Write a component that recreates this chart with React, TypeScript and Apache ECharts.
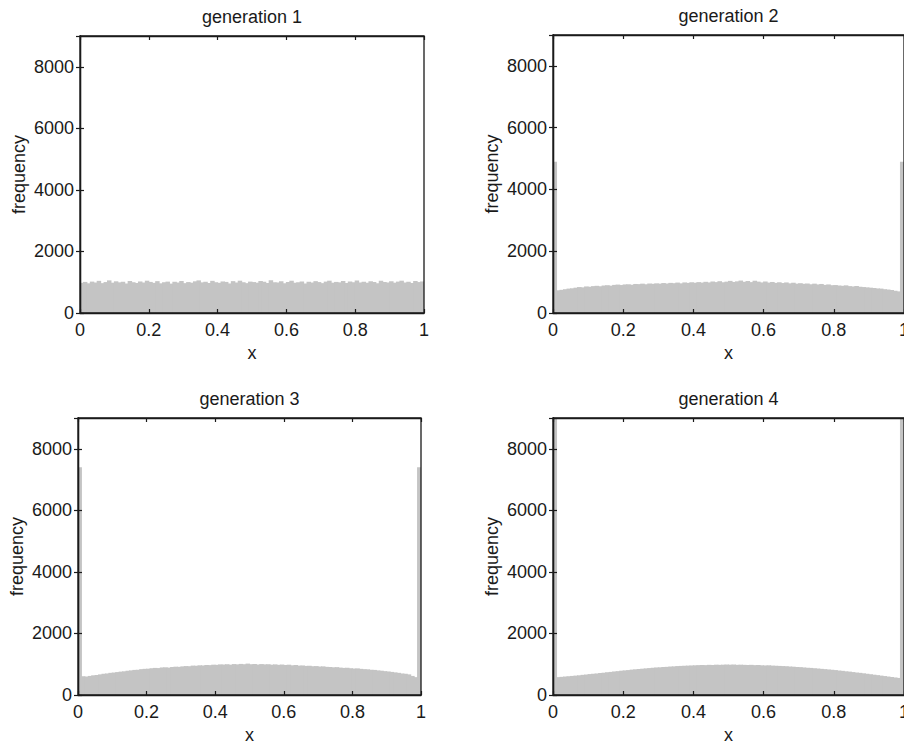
import React, { useEffect, useRef } from "react";
import * as echarts from "echarts";

// ---- data ----
const titles = ["generation 1", "generation 2", "generation 3", "generation 4"];
const xTickLabels = ["0", "0.2", "0.4", "0.6", "0.8", "1"];
const yTickLabels = ["0", "2000", "4000", "6000", "8000"];
const xName = "x";
const yName = "frequency";

// 100 histogram bins on [0, 1]
const binCount = 100;
const binCenters = Array.from({ length: binCount }, (_, i) => ((i + 0.5) / binCount).toFixed(3));

const gen1 = [
  980, 1010, 965, 1020, 990, 1045, 970, 1005, 1060, 985,
  1030, 995, 1015, 960, 1040, 1000, 975, 1025, 990, 1050,
  1010, 980, 1035, 965, 1000, 1020, 955, 1015, 990, 1040,
  970, 1005, 985, 1030, 1060, 995, 1015, 975, 1045, 1000,
  980, 1025, 1010, 960, 1035, 990, 1050, 1000, 970, 1020,
  1005, 985, 1040, 1015, 975, 1065, 1000, 990, 1030, 965,
  1010, 1045, 980, 1000, 1025, 955, 1015, 990, 1035, 1005,
  970, 1020, 1050, 985, 1010, 995, 1040, 975, 1025, 1000,
  1060, 990, 1015, 980, 1035, 1005, 970, 1045, 1010, 995,
  1030, 985, 1020, 1050, 990, 1015, 975, 1040, 1005, 1025,
];

const gen2 = [
  4900, 735, 750, 770, 790, 800, 820, 840, 830, 860,
  850, 870, 880, 865, 890, 900, 885, 910, 920, 905,
  925, 930, 915, 940, 935, 950, 930, 955, 945, 960,
  950, 970, 955, 975, 965, 985, 960, 990, 975, 995,
  980, 1000, 985, 1010, 990, 1020, 1000, 1030, 995, 1015,
  1040, 1005, 1025, 1050, 1010, 1035, 1000, 1045, 1015, 990,
  1020, 985, 1005, 975, 995, 970, 990, 960, 980, 950,
  965, 945, 955, 930, 950, 925, 940, 910, 925, 900,
  905, 890, 880, 895, 870, 860, 875, 850, 840, 830,
  820, 810, 795, 790, 770, 760, 745, 720, 700, 4900,
];

const gen3 = [
  7400, 610, 600, 620, 640, 650, 670, 690, 700, 720,
  730, 745, 760, 770, 790, 800, 815, 820, 840, 850,
  855, 870, 880, 875, 895, 900, 890, 910, 920, 915,
  930, 940, 935, 955, 950, 965, 960, 975, 970, 985,
  980, 995, 990, 1000, 985, 1005, 995, 1010, 1000, 1020,
  1000, 1010, 990, 1005, 995, 1000, 985, 995, 980, 990,
  975, 985, 965, 975, 955, 960, 945, 950, 935, 940,
  925, 930, 915, 910, 900, 905, 890, 880, 885, 870,
  860, 865, 850, 840, 835, 820, 815, 800, 790, 775,
  765, 750, 735, 720, 700, 690, 670, 620, 580, 7400,
];

const gen4 = [
  9600, 580, 590, 600, 610, 620, 630, 640, 655, 665,
  680, 690, 700, 715, 725, 740, 750, 765, 775, 790,
  800, 810, 825, 835, 845, 855, 865, 875, 885, 895,
  900, 910, 915, 925, 930, 940, 945, 950, 955, 960,
  965, 970, 975, 970, 980, 975, 985, 980, 985, 990,
  985, 990, 980, 985, 980, 975, 980, 970, 975, 965,
  960, 965, 955, 950, 945, 940, 935, 925, 920, 910,
  905, 895, 885, 880, 870, 860, 850, 840, 830, 820,
  810, 795, 785, 770, 760, 745, 730, 720, 705, 690,
  675, 660, 645, 630, 615, 600, 585, 570, 555, 9600,
];

const generations = [gen1, gen2, gen3, gen4];

// ---- layout ----
const panels = [
  { left: 80, top: 36, width: 344, height: 277 },
  { left: 553, top: 35, width: 351, height: 278 },
  { left: 78, top: 418, width: 343, height: 277 },
  { left: 553, top: 418, width: 351, height: 277 },
];

const FONT = "'Liberation Sans', Arial, Helvetica, sans-serif";
const INK = "#1a1a1a";
const BAR = "#c4c4c4";

function buildOption() {
  const title: any[] = [];
  const grid: any[] = [];
  const xAxis: any[] = [];
  const yAxis: any[] = [];
  const series: any[] = [];

  panels.forEach((p, i) => {
    title.push({
      text: titles[i],
      left: p.left + p.width / 2,
      top: p.top - 28,
      textAlign: "center",
      padding: 0,
      textStyle: { fontFamily: FONT, fontSize: 18, fontWeight: "normal", color: INK },
    });
    grid.push({
      left: p.left,
      top: p.top,
      width: p.width,
      height: p.height,
      show: true,
      containLabel: false,
      outerBoundsMode: "none",
      borderColor: INK,
      borderWidth: 1.3,
      backgroundColor: "transparent",
      z: 5,
    });
    // hidden category axis for bins
    xAxis.push({
      type: "category",
      gridIndex: i,
      data: binCenters,
      show: false,
      boundaryGap: true,
    });
    // bottom value axis with labels
    xAxis.push({
      type: "value",
      gridIndex: i,
      position: "bottom",
      min: 0,
      max: 1,
      interval: 0.2,
      z: 5,
      name: xName,
      nameLocation: "middle",
      nameGap: 31,
      nameTextStyle: { fontFamily: FONT, fontSize: 18, color: INK },
      splitLine: { show: false },
      axisLine: { show: true, lineStyle: { color: INK, width: 1.3 } },
      axisTick: { show: true, inside: true, length: 4, lineStyle: { color: INK, width: 1.2 } },
      axisLabel: {
        fontFamily: FONT,
        fontSize: 18,
        color: INK,
        margin: 8,
        formatter: (v: number) => xTickLabels[Math.round(v / 0.2)] ?? "",
      },
    });
    // top mirrored ticks
    xAxis.push({
      type: "value",
      gridIndex: i,
      position: "top",
      min: 0,
      max: 1,
      interval: 0.2,
      z: 5,
      splitLine: { show: false },
      axisLine: { show: true, lineStyle: { color: INK, width: 1.3 } },
      axisTick: { show: true, inside: true, length: 4, lineStyle: { color: INK, width: 1.2 } },
      axisLabel: { show: false },
    });
    yAxis.push({
      type: "value",
      gridIndex: i,
      position: "left",
      min: 0,
      max: 9000,
      interval: 2000,
      z: 5,
      name: yName,
      nameLocation: "middle",
      nameGap: 52,
      nameRotate: 90,
      nameTextStyle: { fontFamily: FONT, fontSize: 18, color: INK },
      splitLine: { show: false },
      axisLine: { show: true, lineStyle: { color: INK, width: 1.3 } },
      axisTick: { show: true, inside: true, length: 4, lineStyle: { color: INK, width: 1.2 } },
      axisLabel: {
        fontFamily: FONT,
        fontSize: 18,
        color: INK,
        margin: 6,
        showMaxLabel: false,
        formatter: (v: number) => yTickLabels[Math.round(v / 2000)] ?? "",
      },
    });
    yAxis.push({
      type: "value",
      gridIndex: i,
      position: "right",
      min: 0,
      max: 9000,
      interval: 2000,
      z: 5,
      splitLine: { show: false },
      axisLine: { show: true, lineStyle: { color: INK, width: 1.3 } },
      axisTick: { show: true, inside: true, length: 4, lineStyle: { color: INK, width: 1.2 } },
      axisLabel: { show: false },
    });
    series.push({
      type: "bar",
      xAxisIndex: i * 3,
      yAxisIndex: i * 2,
      data: generations[i],
      barWidth: "130%",
      clip: true,
      itemStyle: { color: BAR },
      emphasis: { disabled: true },
      silent: true,
    });
  });

  return {
    animation: false,
    backgroundColor: "#ffffff",
    textStyle: { fontFamily: FONT },
    title,
    grid,
    xAxis,
    yAxis,
    series,
  };
}

export default function App() {
  const ref = useRef<HTMLDivElement>(null);
  useEffect(() => {
    if (!ref.current) return;
    const chart = echarts.init(ref.current, undefined, { renderer: "svg" });
    chart.setOption(buildOption() as any);
    return () => chart.dispose();
  }, []);
  return (
    <div
      ref={ref}
      style={{ position: "absolute", left: 0, top: 0, width: 904, height: 745, background: "#fff" }}
    />
  );
}
